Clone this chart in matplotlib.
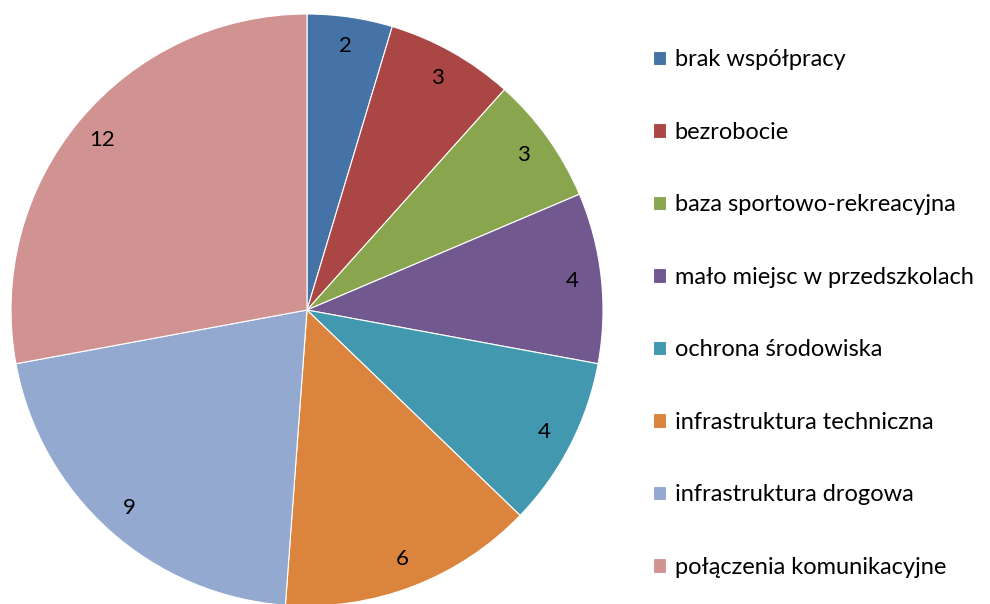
import matplotlib
matplotlib.use('Agg')
import matplotlib.pyplot as plt

plt.rcParams['font.family'] = ['Lato', 'DejaVu Sans']

labels = ["brak współpracy", "bezrobocie", "baza sportowo-rekreacyjna",
          "mało miejsc w przedszkolach", "ochrona środowiska",
          "infrastruktura techniczna", "infrastruktura drogowa",
          "połączenia komunikacyjne"]
values = [2, 3, 3, 4, 4, 6, 9, 12]
colors = ["#4572A7", "#AA4643", "#89A54E", "#71588F",
          "#4198AF", "#DB843D", "#93A9CF", "#D19392"]

total = sum(values)

fig = plt.figure(figsize=(9.9, 6.04), dpi=100)
# pie centre ~ (307, 310) px, radius ~296 px
ax = fig.add_axes([11 / 990, 1 - 606 / 604, 592 / 990, 592 / 604])
wedges, texts, autotexts = ax.pie(
    values, colors=colors, startangle=90, counterclock=False,
    autopct=lambda p: '{:d}'.format(int(round(p * total / 100))),
    pctdistance=0.9, radius=1,
    wedgeprops=dict(linewidth=0.8, edgecolor='white'),
    textprops=dict(fontsize=16, color='black'))
ax.set_xlim(-1, 1)
ax.set_ylim(-1, 1)
ax.set_aspect('equal')

leg = fig.legend(wedges, labels, loc='upper left',
                 bbox_to_anchor=(644 / 990, 1 - 40 / 604),
                 frameon=False, fontsize=17,
                 handlelength=0.55, handleheight=0.55, handletextpad=0.35,
                 labelspacing=2.18, borderaxespad=0)

fig.savefig('out.png', dpi=100)
